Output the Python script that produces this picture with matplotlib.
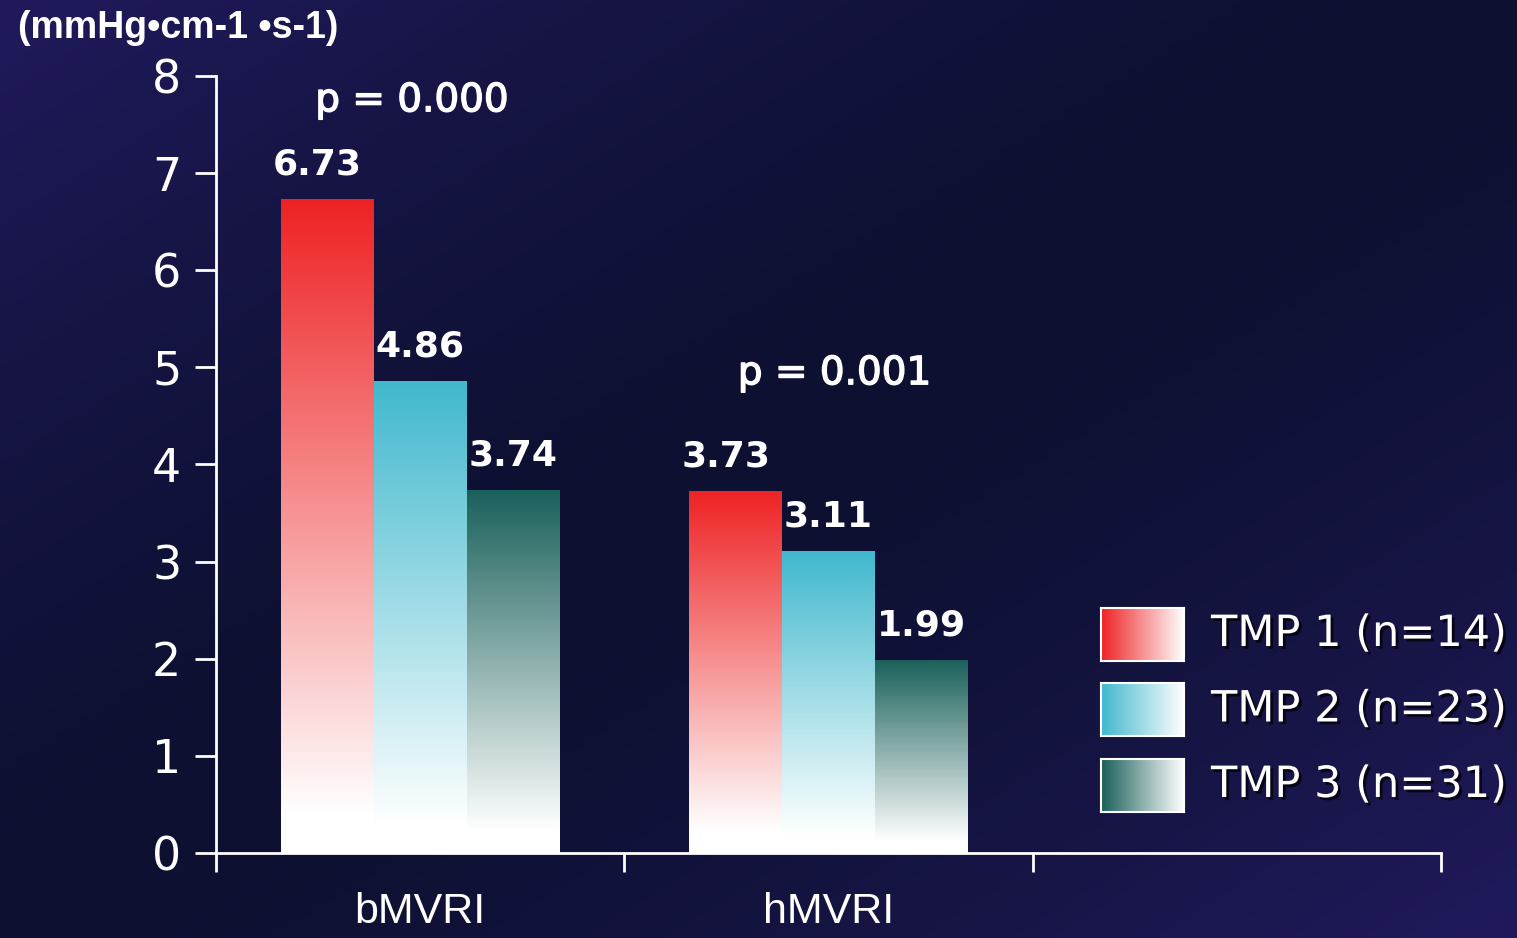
import numpy as np
import matplotlib
matplotlib.use("Agg")
import matplotlib.pyplot as plt
from matplotlib.colors import LinearSegmentedColormap
import matplotlib.patheffects as pe

# --- data -------------------------------------------------------------
categories = ["bMVRI", "hMVRI"]
series_names = ["TMP 1 (n=14)", "TMP 2 (n=23)", "TMP 3 (n=31)"]
tmp1 = [6.73, 3.73]
tmp2 = [4.86, 3.11]
tmp3 = [3.74, 1.99]
p_labels = ["p = 0.000", "p = 0.001"]
y_ticks = [0, 1, 2, 3, 4, 5, 6, 7, 8]
unit_label = "(mmHg\u2022cm-1 \u2022s-1)"

series_values = [tmp1, tmp2, tmp3]
top_colors = ["#ee2224", "#40b8cd", "#1a605a"]
label_nudge = [-0.024, 0.0, 0.0]
white = "#ffffff"

W, H, DPI = 1517, 938, 100
fig = plt.figure(figsize=(W / DPI, H / DPI), dpi=DPI)

# --- diagonal navy background --------------------------------------------
bg = fig.add_axes([0, 0, 1, 1], zorder=-10)
yy, xx = np.mgrid[0:1:300j, 0:1:480j]
u = np.abs(xx + yy - 1.0)  # 0 along the anti-diagonal, 1 at two corners
dark = np.array([13, 16, 48]) / 255
light = np.array([32, 26, 92]) / 255
img = dark[None, None, :] + (light - dark)[None, None, :] * (u ** 1.4)[:, :, None]
bg.imshow(img, extent=[0, 1, 0, 1], origin="upper", aspect="auto", interpolation="bilinear")
bg.set_xlim(0, 1)
bg.set_ylim(0, 1)
bg.axis("off")

# --- main axes -------------------------------------------------------------
ax = fig.add_axes([216 / W, 1 - 853 / H, (1441 - 216) / W, (853 - 76) / H])
ax.set_facecolor("none")

bar_w = 0.227
centers = np.arange(len(categories)) + 0.5

grad = np.linspace(0, 1, 256)[:, None]  # bottom -> top


def vertical_cmap(top):
    # white at the foot of the bar, full colour at the top
    return LinearSegmentedColormap.from_list(
        "g", [(0.0, white), (0.06, white), (1.0, top)])


for j, vals in enumerate(series_values):
    cmap = vertical_cmap(top_colors[j])
    for i, v in enumerate(vals):
        xc = centers[i] + (j - 1) * bar_w
        rect = ax.bar(xc, v, width=bar_w, color="none", edgecolor="none", zorder=2)[0]
        im = ax.imshow(grad, extent=[xc - bar_w / 2, xc + bar_w / 2, 0, v],
                       origin="lower", aspect="auto", cmap=cmap,
                       vmin=0, vmax=1, zorder=2, interpolation="bilinear")
        im.set_clip_path(rect)
        ax.text(xc + label_nudge[j], v + 0.18, f"{v:.2f}", ha="center", va="bottom",
                color="white", fontsize=26, fontweight="bold",
                family="DejaVu Sans", zorder=5)

ax.set_xlim(0, 3)
ax.set_ylim(0, 8)

# --- axes styling ----------------------------------------------------------
for s in ["top", "right"]:
    ax.spines[s].set_visible(False)
for s in ["left", "bottom"]:
    ax.spines[s].set_color("white")
    ax.spines[s].set_linewidth(2)
    ax.spines[s].set_zorder(4)

ax.set_yticks(y_ticks)
ax.set_yticklabels([str(t) for t in y_ticks], fontsize=33, color="white",
                   family="DejaVu Sans")
ax.tick_params(axis="y", direction="out", length=15, width=2, color="white", pad=10)

ax.set_xticks([0, 1, 2, 3])
ax.set_xticklabels([])
ax.tick_params(axis="x", which="major", direction="out", length=14, width=2, color="white")
ax.set_xticks(centers, minor=True)
ax.set_xticklabels(categories, minor=True, fontsize=31, color="white",
                   family="Liberation Sans")
ax.tick_params(axis="x", which="minor", length=0, pad=28)

# --- annotations -------------------------------------------------------------
p_fx = [pe.withStroke(linewidth=1.0, foreground="white")]
ax.text(0.48, 7.75, p_labels[0], ha="center", va="center", color="white",
        fontsize=28, family="DejaVu Sans", path_effects=p_fx)
ax.text(1.515, 4.94, p_labels[1], ha="center", va="center", color="white",
        fontsize=28, family="DejaVu Sans", path_effects=p_fx)

fig.text(18 / W, 1 - 28 / H, unit_label, ha="left", va="center", color="white",
         fontsize=27, fontweight="bold", family="Liberation Sans")

# --- legend with horizontal gradient swatches --------------------------------
hgrad = np.linspace(0, 1, 256)[None, :]
row_centers_px = [634, 709.5, 785]
sw_h_px = 53
for j, name in enumerate(series_names):
    yc = 1 - row_centers_px[j] / H
    h = sw_h_px / H
    sax = fig.add_axes([1101 / W, yc - h / 2, (1184 - 1101) / W, h])
    cmap = LinearSegmentedColormap.from_list("h", [top_colors[j], white])
    sax.imshow(hgrad, aspect="auto", cmap=cmap, vmin=0, vmax=1,
               extent=[0, 1, 0, 1], interpolation="bilinear")
    sax.set_xlim(0, 1)
    sax.set_ylim(0, 1)
    sax.set_xticks([])
    sax.set_yticks([])
    for s in sax.spines.values():
        s.set_color("white")
        s.set_linewidth(1.5)
    fig.text(1211 / W, yc, name, ha="left", va="center", color="white",
             fontsize=31, family="DejaVu Sans",
             path_effects=[pe.withSimplePatchShadow(offset=(2, -2), shadow_rgbFace="black", alpha=0.7)])

fig.savefig("out.png", dpi=DPI)
